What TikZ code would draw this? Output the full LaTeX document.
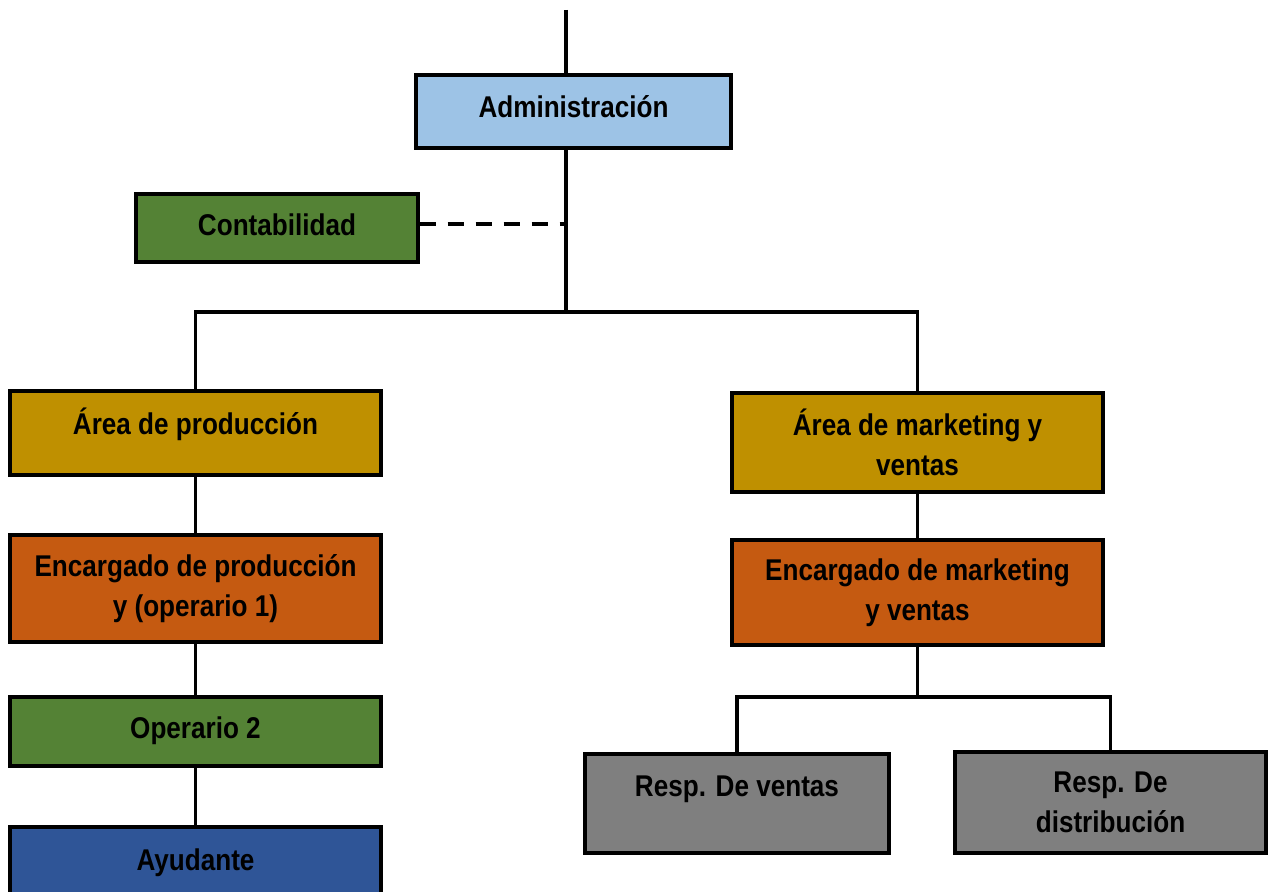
\documentclass[tikz,border=0pt]{standalone}
\usepackage{fontspec}
\setmainfont{Liberation Sans}[FakeStretch=0.87]
\usepackage{tikz}
\usetikzlibrary{calc}
\definecolor{admblue}{HTML}{9DC3E6}
\definecolor{contgreen}{HTML}{548235}
\definecolor{areagold}{HTML}{BF9000}
\definecolor{encorange}{HTML}{C55A11}
\definecolor{ayudblue}{HTML}{2F5597}
\definecolor{respgray}{HTML}{7F7F7F}
\tikzset{
    unitbox/.style={draw=black, line width=1.6pt, rectangle, align=center,
        font=\fontsize{15}{20}\selectfont\bfseries, inner sep=2pt},
    link/.style={draw=black, line width=1.6pt},
    dottedlink/.style={draw=black, line width=1.6pt, dash pattern=on 8pt off 6pt}
}

\begin{document}
\begin{tikzpicture}[x=0.5pt, y=-0.5pt]
        \useasboundingbox (0,0) rectangle (1274,892);

        \coordinate (top) at (566,10);
        \coordinate (hub) at (566,312);
        \coordinate (split) at (917.5,697);

        \node[unitbox, fill=admblue, minimum width=157.5pt, minimum height=36.5pt, text depth=5pt] (adm) at (573.5,111.5) {Administración};
        \node[unitbox, fill=contgreen, minimum width=141pt, minimum height=34pt, text depth=3pt] (conta) at (277,228) {Contabilidad};
        \node[unitbox, fill=areagold, minimum width=185.5pt, minimum height=42pt, text depth=12pt] (areaprod) at (195.5,433) {Área de producción};
        \node[unitbox, fill=areagold, minimum width=185.5pt, minimum height=49.5pt] (areamkt) at (917.5,442.5) {Área de marketing y\\ ventas};
        \node[unitbox, fill=encorange, minimum width=185.5pt, minimum height=53.5pt] (encprod) at (195.5,588.5) {Encargado de producción\\ y (operario 1)};
        \node[unitbox, fill=encorange, minimum width=185.5pt, minimum height=52.5pt] (encmkt) at (917.5,592.5) {Encargado de marketing\\ y ventas};
        \node[unitbox, fill=contgreen, minimum width=185.5pt, minimum height=34.5pt, text depth=4pt] (op2) at (195.5,731.5) {Operario 2};
        \node[unitbox, fill=ayudblue, minimum width=185.5pt, minimum height=36pt] (ayud) at (195.5,863) {Ayudante};
        \node[unitbox, fill=respgray, minimum width=152pt, minimum height=49.5pt, text depth=17pt] (respv) at (737,803.5) {Resp. De ventas};
        \node[unitbox, fill=respgray, minimum width=155.5pt, minimum height=50.5pt] (respd) at (1110.5,802.5) {Resp. De\\ distribución};

        \draw[link] (top) -- (top |- adm.north);
        \draw[link] (adm.south -| hub) -- (hub);
        \draw[dottedlink] ($(conta.east)+(0,-4)$) -- ($(conta.east -| hub)+(0,-4)$);
        \draw[link] (areaprod.north) |- (hub) -| (areamkt.north);
        \draw[link] (areaprod.south) -- (encprod.north);
        \draw[link] (encprod.south) -- (op2.north);
        \draw[link] (op2.south) -- (ayud.north);
        \draw[link] (areamkt.south) -- (encmkt.north);
        \draw[link] (encmkt.south) -- (split);
        \draw[link] (respv.north) |- (split) -| (respd.north);
    \end{tikzpicture}
\end{document}
